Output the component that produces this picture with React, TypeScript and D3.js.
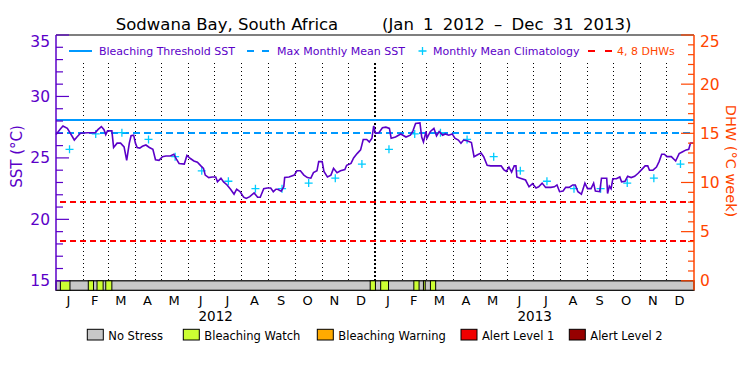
import { useEffect, useRef } from "react";
import * as d3 from "d3";

const WIDTH = 750;
const HEIGHT = 375;

// daily SST trace: day offset from 2012-01-01 and value (°C)
const sstDays = [
  0, 5, 8, 13, 19, 21, 24, 28, 36, 45, 48, 52, 55, 57, 59, 64, 66, 70, 74, 78,
  81, 84, 86, 89, 91, 93, 96, 99, 103, 107, 111, 114, 118, 122, 126, 131, 135, 138, 141, 147,
  150, 154, 158, 162, 166, 169, 171, 175, 179, 183, 185, 189, 192, 196, 200, 204, 207, 211, 215, 218,
  222, 227, 231, 234, 238, 242, 246, 249, 252, 254, 258, 261, 262, 267, 273, 276, 280, 284, 288, 292,
  295, 299, 301, 305, 307, 311, 315, 318, 322, 326, 331, 333, 338, 341, 345, 349, 352, 356, 359, 362,
  364, 366, 370, 374, 378, 382, 384, 389, 395, 401, 406, 409, 412, 417, 419, 421, 424, 425, 429, 433,
  436, 439, 443, 446, 450, 454, 457, 461, 464, 467, 471, 476, 479, 483, 487, 490, 494, 498, 510, 513,
  516, 519, 522, 525, 527, 528, 532, 538, 542, 546, 550, 553, 557, 561, 567, 571, 574, 577, 581, 584,
  588, 592, 595, 598, 602, 606, 609, 613, 616, 618, 623, 625, 631, 632, 634, 636, 638, 642, 646, 648,
  652, 655, 659, 663, 667, 671, 675, 678, 680, 684, 688, 691, 694, 697, 700, 705, 710, 714, 718, 722,
  725, 727, 730,
];
const sstValues = [
  26.9, 27.35, 27.6, 27.4, 26.7, 26.45, 26.7, 27.0, 27.05, 27.05, 27.3, 27.55, 27.3, 26.9, 27.2, 27.2, 25.85, 26.2, 26.2, 25.9,
  24.8, 26.2, 26.8, 26.85, 26.2, 25.85, 25.8, 25.95, 26.05, 25.85, 25.7, 24.85, 24.8, 25.1, 25.15, 25.15, 25.3, 24.9, 24.55, 24.5,
  25.2, 24.95, 24.75, 24.65, 24.35, 24.15, 23.6, 23.4, 23.45, 23.45, 23.05, 23.35, 23.05, 22.8, 22.45, 22.05, 22.45, 22.25, 21.8, 21.7,
  21.85, 22.15, 21.8, 21.8, 22.5, 22.55, 22.55, 22.25, 22.45, 22.45, 22.3, 22.65, 23.4, 23.45, 23.6, 23.95, 23.95, 23.6, 23.4, 23.35,
  23.8, 23.95, 24.7, 24.7, 23.9, 23.45, 23.6, 24.15, 23.8, 23.95, 24.05, 24.4, 24.55, 25.0, 25.35, 25.65, 26.5, 26.5, 26.3, 26.6,
  27.6, 27.0, 27.05, 27.45, 27.5, 27.4, 26.6, 26.7, 26.95, 26.7, 26.85, 27.2, 27.8, 27.85, 26.7, 26.3, 27.15, 26.6, 27.15, 27.4,
  26.8, 27.15, 26.85, 26.95, 26.85, 26.95, 26.6, 26.45, 26.2, 26.45, 26.4, 26.25, 25.1, 25.25, 25.4, 25.1, 24.4, 24.35, 24.35, 24.05,
  23.9, 24.25, 23.85, 24.35, 24.35, 23.45, 23.35, 23.2, 22.65, 22.9, 22.55, 22.65, 22.95, 22.6, 22.6, 22.65, 22.8, 22.25, 22.3, 22.6,
  22.6, 22.8, 22.8, 22.25, 22.05, 22.95, 22.5, 22.5, 22.95, 22.3, 22.25, 23.35, 23.35, 22.1, 22.7, 22.5, 23.3, 23.3, 23.45, 23.05,
  23.1, 23.5, 23.4, 23.5, 23.75, 24.05, 24.35, 24.35, 24.0, 24.0, 24.25, 24.7, 25.3, 25.3, 25.1, 25.1, 24.75, 25.35, 25.5, 25.65,
  25.7, 26.2, 26.2,
];

// monthly mean climatology (Jan..Dec)
const climatology = [25.7, 26.95, 27.05, 26.5, 25.1, 23.95, 23.1, 22.5, 22.5, 22.95, 23.35, 24.5];

const monthLetters = ["J", "F", "M", "A", "M", "J", "J", "A", "S", "O", "N", "D"];
const years = [2012, 2013];

// bleaching watch periods in the stress bar
const watchPeriods = [
  ["2012-01-06", "2012-01-17"],
  ["2012-02-07", "2012-02-13"],
  ["2012-02-17", "2012-02-24"],
  ["2012-02-27", "2012-03-05"],
  ["2012-12-26", "2013-01-01"],
  ["2013-01-07", "2013-01-16"],
  ["2013-02-14", "2013-02-20"],
  ["2013-02-25", "2013-02-27"],
  ["2013-03-05", "2013-03-11"],
];

const dhwLevels = [4, 8];

const stressLabels = ["No Stress", "Bleaching Watch", "Bleaching Warning", "Alert Level 1", "Alert Level 2"];
const stressColors = ["#c8c8c8", "#ccff33", "#ffaa00", "#f00000", "#960000"];

const PURPLE = "#5b00c8";
const ORANGE = "#ff4500";
const BLUE = "#0099ff";
const CYAN = "#00ccff";
const FONT = "DejaVu Sans, sans-serif";

export default function App() {
  const ref = useRef<SVGSVGElement>(null);

  useEffect(() => {
    if (!ref.current) return;
    const svg = d3.select(ref.current);
    svg.selectAll("*").remove();

    const left = 56;
    const right = 694;
    const top = 35;
    const barTop = 280.8;
    const barBottom = 290.3;

    const t0 = new Date(Date.UTC(2012, 0, 1));
    const t1 = new Date(Date.UTC(2014, 0, 1));
    const x = d3.scaleUtc().domain([t0, t1]).range([left, right]);
    const ySst = d3.scaleLinear().domain([15, 35]).range([barTop, top]);
    const yDhw = d3.scaleLinear().domain([0, 25]).range([barTop, top]);

    svg.append("rect").attr("width", WIDTH).attr("height", HEIGHT).attr("fill", "#fff");

    // month separators
    d3.utcMonth.range(d3.utcMonth.offset(t0, 1), t1).forEach((m) => {
      const isYear = m.getUTCMonth() === 0;
      svg
        .append("line")
        .attr("x1", x(m))
        .attr("x2", x(m))
        .attr("y1", 63)
        .attr("y2", barTop)
        .attr("stroke", "#000")
        .attr("stroke-width", isYear ? 2 : 1)
        .attr("stroke-dasharray", isYear ? "2,2" : "1,3")
        .attr("shape-rendering", "crispEdges");
    });

    // reference lines
    const mmm = d3.max(climatology)!;
    svg
      .append("line")
      .attr("x1", left)
      .attr("x2", right)
      .attr("y1", ySst(mmm + 1))
      .attr("y2", ySst(mmm + 1))
      .attr("stroke", BLUE)
      .attr("stroke-width", 2)
      .attr("shape-rendering", "crispEdges");
    svg
      .append("line")
      .attr("x1", left)
      .attr("x2", right)
      .attr("y1", ySst(mmm))
      .attr("y2", ySst(mmm))
      .attr("stroke", BLUE)
      .attr("stroke-width", 2)
      .attr("stroke-dasharray", "7,4")
      .attr("shape-rendering", "crispEdges");
    dhwLevels.forEach((d) => {
      svg
        .append("line")
        .attr("x1", left + 4)
        .attr("x2", right)
        .attr("y1", yDhw(d))
        .attr("y2", yDhw(d))
        .attr("stroke", "#f00")
        .attr("stroke-width", 2)
        .attr("stroke-dasharray", "6,4")
        .attr("shape-rendering", "crispEdges");
    });

    // climatology crosses
    years.forEach((yr) => {
      climatology.forEach((v, i) => {
        const a = new Date(Date.UTC(yr, i, 1));
        const b = new Date(Date.UTC(yr, i + 1, 1));
        const mid = new Date((a.getTime() + b.getTime()) / 2);
        svg
          .append("path")
          .attr("d", `M${x(mid) - 4},${ySst(v)}h8M${x(mid)},${ySst(v) - 4}v8`)
          .attr("stroke", CYAN)
          .attr("stroke-width", 1.3)
          .attr("fill", "none");
      });
    });

    // SST trace
    const line = d3
      .line<number>()
      .x((d) => x(d3.utcDay.offset(t0, d)))
      .y((_, i) => ySst(sstValues[i]));
    svg
      .append("path")
      .attr("d", line(sstDays))
      .attr("fill", "none")
      .attr("stroke", PURPLE)
      .attr("stroke-width", 1.6)
      .attr("stroke-linejoin", "miter");

    // stress bar
    svg
      .append("rect")
      .attr("x", left)
      .attr("y", barTop)
      .attr("width", right - left)
      .attr("height", barBottom - barTop)
      .attr("fill", stressColors[0])
      .attr("stroke", "#000")
      .attr("stroke-width", 1.2);
    watchPeriods.forEach(([s, e]) => {
      const xs = x(new Date(s + "T00:00:00Z"));
      const xe = x(new Date(e + "T00:00:00Z"));
      svg
        .append("rect")
        .attr("x", xs)
        .attr("y", barTop)
        .attr("width", xe - xs)
        .attr("height", barBottom - barTop)
        .attr("fill", stressColors[1])
        .attr("stroke", "#000")
        .attr("stroke-width", 1);
    });

    // frame top
    svg
      .append("line")
      .attr("x1", left)
      .attr("x2", right)
      .attr("y1", top)
      .attr("y2", top)
      .attr("stroke", "#000")
      .attr("stroke-width", 1.2);

    // left axis
    svg
      .append("line")
      .attr("x1", left)
      .attr("x2", left)
      .attr("y1", top)
      .attr("y2", barBottom)
      .attr("stroke", PURPLE)
      .attr("stroke-width", 1.5);
    d3.range(15, 36).forEach((v) => {
      const major = v % 5 === 0;
      svg
        .append("line")
        .attr("x1", left)
        .attr("x2", left + (major ? 13 : 7))
        .attr("y1", ySst(v))
        .attr("y2", ySst(v))
        .attr("stroke", PURPLE)
        .attr("stroke-width", 1.2);
      if (major) {
        svg
          .append("text")
          .attr("x", 50)
          .attr("y", ySst(v) + 5.5 + (v === 35 ? 6 : 0))
          .attr("text-anchor", "end")
          .attr("fill", PURPLE)
          .attr("font-family", FONT)
          .attr("font-size", 15.5)
          .text(v);
      }
    });

    // right axis
    svg
      .append("line")
      .attr("x1", right)
      .attr("x2", right)
      .attr("y1", top)
      .attr("y2", barBottom)
      .attr("stroke", ORANGE)
      .attr("stroke-width", 1.5);
    d3.range(0, 26).forEach((v) => {
      const major = v % 5 === 0;
      svg
        .append("line")
        .attr("x1", right)
        .attr("x2", right - (major ? 13 : 6))
        .attr("y1", yDhw(v))
        .attr("y2", yDhw(v))
        .attr("stroke", ORANGE)
        .attr("stroke-width", 1.2);
      if (major) {
        svg
          .append("text")
          .attr("x", 700)
          .attr("y", yDhw(v) + 5.5 + (v === 25 ? 6 : 0))
          .attr("fill", ORANGE)
          .attr("font-family", FONT)
          .attr("font-size", 15.5)
          .text(v);
      }
    });

    // axis titles
    svg
      .append("text")
      .attr("transform", `translate(22,156.5) rotate(-90)`)
      .attr("text-anchor", "middle")
      .attr("fill", PURPLE)
      .attr("font-family", FONT)
      .attr("font-size", 15)
      .text("SST (°C)");
    svg
      .append("text")
      .attr("transform", `translate(726,161) rotate(90)`)
      .attr("text-anchor", "middle")
      .attr("fill", ORANGE)
      .attr("font-family", FONT)
      .attr("font-size", 14.5)
      .text("DHW (°C week)");

    // month letters and years
    years.forEach((yr) => {
      d3.range(12).forEach((i) => {
        const a = new Date(Date.UTC(yr, i, 1));
        const b = new Date(Date.UTC(yr, i + 1, 1));
        svg
          .append("text")
          .attr("x", x(new Date((a.getTime() + b.getTime()) / 2)) - 1)
          .attr("y", 305)
          .attr("text-anchor", "middle")
          .attr("font-family", FONT)
          .attr("font-size", 13)
          .text(monthLetters[i]);
      });
      const ya = new Date(Date.UTC(yr, 0, 1));
      const yb = new Date(Date.UTC(yr + 1, 0, 1));
      svg
        .append("text")
        .attr("x", x(new Date((ya.getTime() + yb.getTime()) / 2)))
        .attr("y", 320.5)
        .attr("text-anchor", "middle")
        .attr("font-family", FONT)
        .attr("font-size", 13.5)
        .text(yr);
    });

    // title
    svg
      .append("text")
      .attr("x", 227)
      .attr("y", 29.5)
      .attr("text-anchor", "middle")
      .attr("font-family", FONT)
      .attr("font-size", 16.5)
      .text("Sodwana Bay, South Africa");
    svg
      .append("text")
      .attr("x", 382)
      .attr("y", 29.5)
      .attr("font-family", FONT)
      .attr("font-size", 16.5)
      .attr("word-spacing", 4)
      .text("(Jan 1 2012 – Dec 31 2013)");

    // top legend
    const legendY = 51;
    const topLegend = svg.append("g").attr("font-family", FONT).attr("font-size", 11);
    topLegend
      .append("line")
      .attr("x1", 69).attr("x2", 92).attr("y1", legendY).attr("y2", legendY)
      .attr("stroke", BLUE).attr("stroke-width", 1.5).attr("shape-rendering", "crispEdges");
    topLegend.append("text").attr("x", 99).attr("y", legendY + 4).attr("fill", PURPLE).text("Bleaching Threshold SST");
    topLegend
      .append("line")
      .attr("x1", 247).attr("x2", 269).attr("y1", legendY).attr("y2", legendY)
      .attr("stroke", BLUE).attr("stroke-width", 1.5).attr("stroke-dasharray", "7,8")
      .attr("shape-rendering", "crispEdges");
    topLegend.append("text").attr("x", 277).attr("y", legendY + 4).attr("fill", PURPLE).text("Max Monthly Mean SST");
    topLegend
      .append("path")
      .attr("d", `M418.5,${legendY}h8M422.5,${legendY - 4}v8`)
      .attr("stroke", CYAN).attr("stroke-width", 1.3);
    topLegend.append("text").attr("x", 433).attr("y", legendY + 4).attr("fill", PURPLE).text("Monthly Mean Climatology");
    topLegend
      .append("line")
      .attr("x1", 588).attr("x2", 612).attr("y1", legendY).attr("y2", legendY)
      .attr("stroke", "#f00").attr("stroke-width", 1.5).attr("stroke-dasharray", "7,10")
      .attr("shape-rendering", "crispEdges");
    topLegend.append("text").attr("x", 617).attr("y", legendY + 4).attr("fill", ORANGE).text("4, 8 DHWs");

    // stress legend
    const boxX = [87.3, 183.3, 317.3, 461, 569.3];
    stressLabels.forEach((label, i) => {
      svg
        .append("rect")
        .attr("x", boxX[i])
        .attr("y", 329.3)
        .attr("width", 16)
        .attr("height", 10.7)
        .attr("fill", stressColors[i])
        .attr("stroke", "#000")
        .attr("stroke-width", 1);
      svg
        .append("text")
        .attr("x", boxX[i] + 21)
        .attr("y", 340)
        .attr("font-family", FONT)
        .attr("font-size", 11.5)
        .text(label);
    });
  }, []);

  return (
    <svg
      ref={ref}
      width={WIDTH}
      height={HEIGHT}
      style={{ position: "absolute", left: 0, top: 0, display: "block" }}
    />
  );
}
